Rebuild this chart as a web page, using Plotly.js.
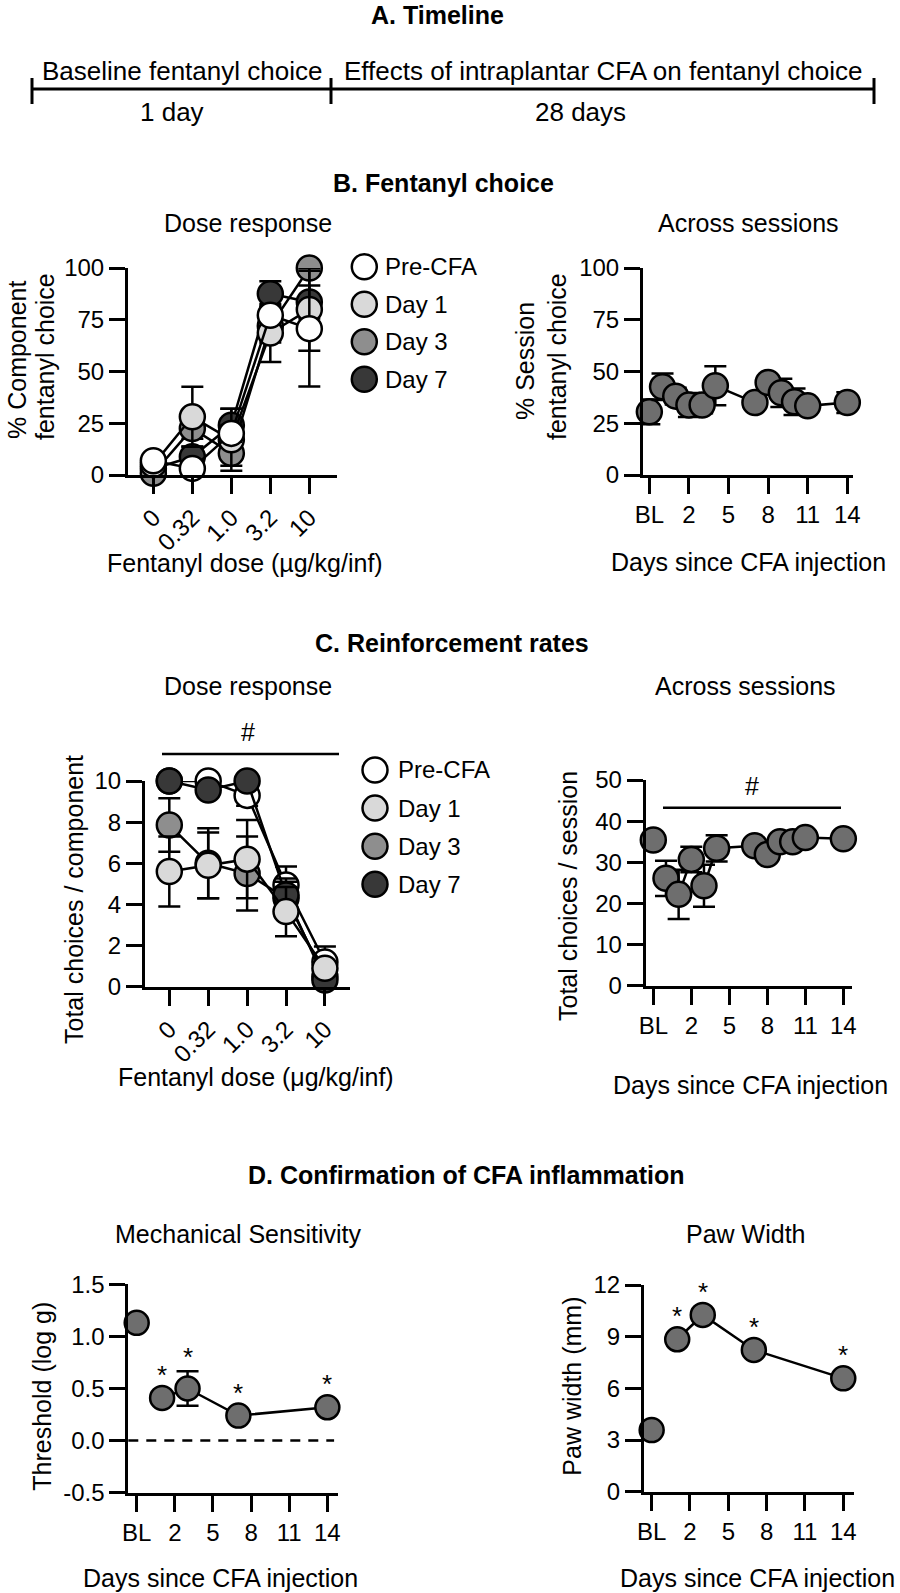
<!DOCTYPE html>
<html>
<head>
<meta charset="utf-8">
<script src="https://cdn.plot.ly/plotly-3.0.1.min.js"></script>
<style>
  html, body { margin: 0; padding: 0; background: #fff; }
  #fig { width: 900px; height: 1593px; }
</style>
</head>
<body>
<div id="fig"></div>
<script>
/* --- values --- */
const PHASES = ['Baseline fentanyl choice', 'Effects of intraplantar CFA on fentanyl choice'];
const PHASE_LENGTHS = ['1 day', '28 days'];

const DOSES = ['0', '0.32', '1.0', '3.2', '10'];
const GROUPS = ['Pre-CFA', 'Day 1', 'Day 3', 'Day 7'];
const GROUP_FILL = ['#ffffff', '#d9d9d9', '#8e8e8e', '#383838'];

// B. % component fentanyl choice, rows follow GROUPS
const CHOICE_PCT = [
  [6.9, 3.2, 20.1, 77.2, 70.7],
  [5.0, 28.1, 17.0, 68.6, 80.0],
  [0.8, 22.5, 10.5, 72.0, 100],
  [3.0, 8.8, 24.0, 87.6, 83.6],
];
const CHOICE_PCT_SEM = [
  [2, 2, 4, 4, 28],
  [3, 14.5, 15, 14, 20],
  [1, 5, 6, 8, 0],
  [2, 5, 8, 6, 8],
];

// C. total choices per component, rows follow GROUPS
const CHOICES_COMP = [
  [10.0, 10.0, 9.3, 4.94, 1.2],
  [5.6, 5.9, 6.2, 3.65, 0.9],
  [7.86, 6.0, 5.5, 4.3, 0.5],
  [10.0, 9.56, 10.0, 4.46, 0.32],
];
const CHOICES_COMP_SEM = [
  [0.3, 0.3, 0.5, 0.9, 0.75],
  [1.7, 1.6, 1.9, 1.2, 0.3],
  [1.3, 1.7, 1.8, 0.8, 0.2],
  [0.2, 0.3, 0.2, 0.8, 0.2],
];

// sessions (BL plotted at -1)
const SESSION_DAYS = [-1, 0, 1, 2, 3, 4, 7, 8, 9, 10, 11, 14];
const SESSION_PCT = [30.5, 42.6, 38.1, 33.8, 33.8, 43.1, 35.0, 44.7, 39.7, 35.4, 33.4, 35.0];
const SESSION_PCT_SEM = [6, 6.4, 4, 5.8, 4, 9.4, 3, 3, 6.8, 6.4, 3, 5];
const SESSION_TOTAL = [35.4, 26.1, 22.2, 30.7, 24.3, 33.4, 34.0, 31.9, 35.0, 35.0, 36.0, 35.7];
const SESSION_TOTAL_SEM = [1.5, 4.3, 6.0, 3.1, 5.1, 3.2, 1.5, 1.5, 1.5, 1.5, 1.5, 1.5];

// D. inflammation tests
const TEST_DAYS = [-1, 1, 3, 7, 14];
const THRESHOLD = [1.13, 0.41, 0.50, 0.24, 0.32];
const THRESHOLD_SEM = [0.03, 0.04, 0.165, 0.04, 0.04];
const PAW_WIDTH = [3.58, 8.85, 10.26, 8.23, 6.58];
const PAW_WIDTH_SEM = [0.2, 0.3, 0.3, 0.3, 0.3];
const SIG = [false, true, true, true, true];

const DAY_TICKS = [-1, 2, 5, 8, 11, 14];
const DAY_TICK_TEXT = ['BL', '2', '5', '8', '11', '14'];
const PCT_TICKS = [0, 25, 50, 75, 100];
const COMP_TICKS = [0, 2, 4, 6, 8, 10];
const SESSION_TICKS = [0, 10, 20, 30, 40, 50];
const THRESH_TICKS = [-0.5, 0, 0.5, 1.0, 1.5];
const THRESH_TICK_TEXT = ['-0.5', '0.0', '0.5', '1.0', '1.5'];
const PAW_TICKS = [0, 3, 6, 9, 12];

/* --- page geometry (px in a 900 x 1593 page) --- */
const W = 900, H = 1593;
const FONT = 'Liberation Sans, Arial, sans-serif';
const SESSION_FILL = '#6e6e6e';
const px = v => v / W;
const py = v => 1 - v / H;

const PANELS = {
  bDose:    { ax: '',  l: 128,   r: 337,   t: 268,    b: 475,    xr: [-0.65, 4.71],  yr: [0, 100] },
  bSession: { ax: '2', l: 643,   r: 853,   t: 268,    b: 475,    xr: [-1.48, 14.43], yr: [0, 100] },
  cDose:    { ax: '3', l: 145,   r: 350,   t: 781,    b: 986.7,  xr: [-0.625, 4.645], yr: [0, 10] },
  cSession: { ax: '4', l: 645.7, r: 851.7, t: 780,    b: 985.7,  xr: [-1.6, 14.66],  yr: [0, 50] },
  dMech:    { ax: '5', l: 128.3, r: 338.3, t: 1284.3, b: 1492.7, xr: [-1.66, 14.86], yr: [-0.5, 1.5] },
  dPaw:     { ax: '6', l: 644,   r: 854,   t: 1285,   b: 1491.7, xr: [-1.6, 14.84],  yr: [0, 12] },
};

function axisBase(extra) {
  return Object.assign({
    showline: true, linecolor: '#000', linewidth: 3,
    ticks: 'outside', ticklen: 16, tickwidth: 3, tickcolor: '#000',
    showgrid: false, zeroline: false, fixedrange: true,
    tickfont: { family: FONT, size: 24, color: '#000' },
    tickmode: 'array',
  }, extra);
}

const layout = {
  width: W, height: H,
  margin: { l: 0, r: 0, t: 0, b: 0 },
  paper_bgcolor: '#fff', plot_bgcolor: 'rgba(0,0,0,0)',
  showlegend: false,
  font: { family: FONT, size: 24, color: '#000' },
  annotations: [], shapes: [],
};

function addAxes(p, xExtra, yExtra) {
  const xn = 'xaxis' + p.ax, yn = 'yaxis' + p.ax;
  layout[xn] = axisBase(Object.assign({
    domain: [px(p.l), px(p.r)], range: p.xr, anchor: 'y' + p.ax,
  }, xExtra));
  layout[yn] = axisBase(Object.assign({
    domain: [py(p.b), py(p.t)], range: p.yr, anchor: 'x' + p.ax,
  }, yExtra));
}

const doseIdx = DOSES.map((d, i) => i);
addAxes(PANELS.bDose, { tickvals: doseIdx, ticktext: DOSES, tickangle: -45 }, { tickvals: PCT_TICKS });
addAxes(PANELS.bSession, { tickvals: DAY_TICKS, ticktext: DAY_TICK_TEXT }, { tickvals: PCT_TICKS });
addAxes(PANELS.cDose, { tickvals: doseIdx, ticktext: DOSES, tickangle: -45 }, { tickvals: COMP_TICKS });
addAxes(PANELS.cSession, { tickvals: DAY_TICKS, ticktext: DAY_TICK_TEXT }, { tickvals: SESSION_TICKS });
addAxes(PANELS.dMech, { tickvals: DAY_TICKS, ticktext: DAY_TICK_TEXT }, { tickvals: THRESH_TICKS, ticktext: THRESH_TICK_TEXT });
addAxes(PANELS.dPaw, { tickvals: DAY_TICKS, ticktext: DAY_TICK_TEXT }, { tickvals: PAW_TICKS });

/* --- legend axes (hidden) --- */
function legendAxes(n, cx, top, bottom) {
  layout['xaxis' + n] = { domain: [px(cx - 10), px(cx + 10)], range: [-1, 1], visible: false, fixedrange: true, anchor: 'y' + n };
  layout['yaxis' + n] = { domain: [py(bottom), py(top)], range: [GROUPS.length - 1, 0], visible: false, fixedrange: true, anchor: 'x' + n };
}
legendAxes('7', 364.3, 266.7, 379.3);
legendAxes('8', 375, 770, 884.3);

const traces = [];
const MARKER_LINE = { color: '#000', width: 2.5 };

function doseTraces(values, sems, order, ax) {
  order.forEach(g => {
    traces.push({
      type: 'scatter', mode: 'lines+markers',
      x: doseIdx, y: values[g], xaxis: 'x' + ax, yaxis: 'y' + ax,
      cliponaxis: false, hoverinfo: 'skip',
      line: { color: '#000', width: 2.5 },
      marker: { size: 25, color: GROUP_FILL[g], line: MARKER_LINE },
      error_y: { type: 'data', array: sems[g], color: '#000', thickness: 2.5, width: 11 },
    });
  });
}

function dayTraces(days, values, sems, ax, size) {
  const common = {
    type: 'scatter', xaxis: 'x' + ax, yaxis: 'y' + ax, cliponaxis: false, hoverinfo: 'skip',
    line: { color: '#000', width: 2.5 },
    marker: { size: size, color: SESSION_FILL, line: MARKER_LINE },
  };
  // baseline stands alone, post-CFA days are joined
  traces.push(Object.assign({}, common, {
    mode: 'markers', x: days.slice(0, 1), y: values.slice(0, 1),
    error_y: { type: 'data', array: sems.slice(0, 1), color: '#000', thickness: 2.5, width: 11 },
  }));
  traces.push(Object.assign({}, common, {
    mode: 'lines+markers', x: days.slice(1), y: values.slice(1),
    error_y: { type: 'data', array: sems.slice(1), color: '#000', thickness: 2.5, width: 11 },
  }));
}

doseTraces(CHOICE_PCT, CHOICE_PCT_SEM, [3, 2, 1, 0], '');
dayTraces(SESSION_DAYS, SESSION_PCT, SESSION_PCT_SEM, '2', 25);
doseTraces(CHOICES_COMP, CHOICES_COMP_SEM, [0, 2, 3, 1], '3');
dayTraces(SESSION_DAYS, SESSION_TOTAL, SESSION_TOTAL_SEM, '4', 25);
dayTraces(TEST_DAYS, THRESHOLD, THRESHOLD_SEM, '5', 24);
dayTraces(TEST_DAYS, PAW_WIDTH, PAW_WIDTH_SEM, '6', 24);

['7', '8'].forEach(n => {
  traces.push({
    type: 'scatter', mode: 'markers', xaxis: 'x' + n, yaxis: 'y' + n,
    x: GROUPS.map(() => 0), y: GROUPS.map((g, i) => i),
    cliponaxis: false, hoverinfo: 'skip',
    marker: { size: 25, color: GROUP_FILL, line: MARKER_LINE },
  });
  GROUPS.forEach((g, i) => layout.annotations.push({
    xref: 'x' + n, yref: 'y' + n, x: 0, y: i, xshift: n === '7' ? 19 : 21,
    text: g, showarrow: false, xanchor: 'left', yanchor: 'middle',
    font: { family: FONT, size: 24, color: '#000' },
  }));
});

/* --- text --- */
function label(text, x, y, opts) {
  layout.annotations.push(Object.assign({
    xref: 'paper', yref: 'paper', x: px(x), y: py(y),
    xanchor: 'center', yanchor: 'middle', showarrow: false, text: text,
    font: { family: FONT, size: 25, color: '#000' },
  }, opts || {}));
}
const bold = { font: { family: FONT, size: 25, color: '#000', weight: 'bold' } };
const rot = { textangle: -90 };

label('<b>A. Timeline</b>', 437, 15, bold);
label(PHASES[0], 182, 71, { font: { family: FONT, size: 26, color: '#000' } });
label(PHASES[1], 603, 71, { font: { family: FONT, size: 26, color: '#000' } });
label(PHASE_LENGTHS[0], 172, 112, { font: { family: FONT, size: 26, color: '#000' } });
label(PHASE_LENGTHS[1], 580, 112, { font: { family: FONT, size: 26, color: '#000' } });

label('<b>B. Fentanyl choice</b>', 443, 183, bold);
label('Dose response', 248, 223);
label('Across sessions', 748, 223);
label('% Component', 17, 360, rot);
label('fentanyl choice', 45, 357, rot);
label('Fentanyl dose (µg/kg/inf)', 245, 563);
label('% Session', 525, 361, rot);
label('fentanyl choice', 557, 357, rot);
label('Days since CFA injection', 748, 562);

label('<b>C. Reinforcement rates</b>', 452, 643, bold);
label('Dose response', 248, 686);
label('Across sessions', 745, 686);
label('Total choices / component', 74, 900, rot);
label('Fentanyl dose (μg/kg/inf)', 256, 1077);
label('Total choices / session', 568, 896, rot);
label('Days since CFA injection', 750, 1085);
label('#', 248, 732);
label('#', 752, 786);

label('<b>D. Confirmation of CFA inflammation</b>', 466, 1175, bold);
label('Mechanical Sensitivity', 238, 1234);
label('Paw Width', 745, 1234);
label('Threshold (log g)', 41.7, 1396, rot);
label('Days since CFA injection', 220, 1578);
label('Paw width (mm)', 571.7, 1386, rot);
label('Days since CFA injection', 757, 1578);

// significance stars over the post-CFA points
function stars(days, values, sems, key) {
  const p = PANELS[key];
  const pxPerUnit = (p.b - p.t) / (p.yr[1] - p.yr[0]);
  days.forEach((d, i) => {
    if (!SIG[i]) return;
    layout.annotations.push({
      xref: 'x' + p.ax, yref: 'y' + p.ax, x: d, y: values[i],
      yshift: Math.max(sems[i] * pxPerUnit, 9) + 14,
      text: '*', showarrow: false, xanchor: 'center', yanchor: 'middle',
      font: { family: FONT, size: 26, color: '#000' },
    });
  });
}
stars(TEST_DAYS, THRESHOLD, THRESHOLD_SEM, 'dMech');
stars(TEST_DAYS, PAW_WIDTH, PAW_WIDTH_SEM, 'dPaw');

/* --- shapes: timeline, significance bars, reference line --- */
const blk = { color: '#000', width: 3 };
function seg(x0, y0, x1, y1, line) {
  layout.shapes.push({ type: 'line', xref: 'paper', yref: 'paper',
    x0: px(x0), y0: py(y0), x1: px(x1), y1: py(y1), line: line || blk });
}
seg(32, 89, 874, 89);
[32, 331, 874].forEach(x => seg(x, 78, x, 104));
seg(162, 754, 339, 754, { color: '#000', width: 2.5 });
seg(663, 807.7, 841, 807.7, { color: '#000', width: 2.5 });

layout.shapes.push({
  type: 'line', xref: 'x5 domain', yref: 'y5', x0: 0, x1: 0.98, y0: 0, y1: 0,
  line: { color: '#000', width: 2.5, dash: '10px,8px' },
});

Plotly.newPlot('fig', traces, layout, { displayModeBar: false, staticPlot: true });
</script>
</body>
</html>
